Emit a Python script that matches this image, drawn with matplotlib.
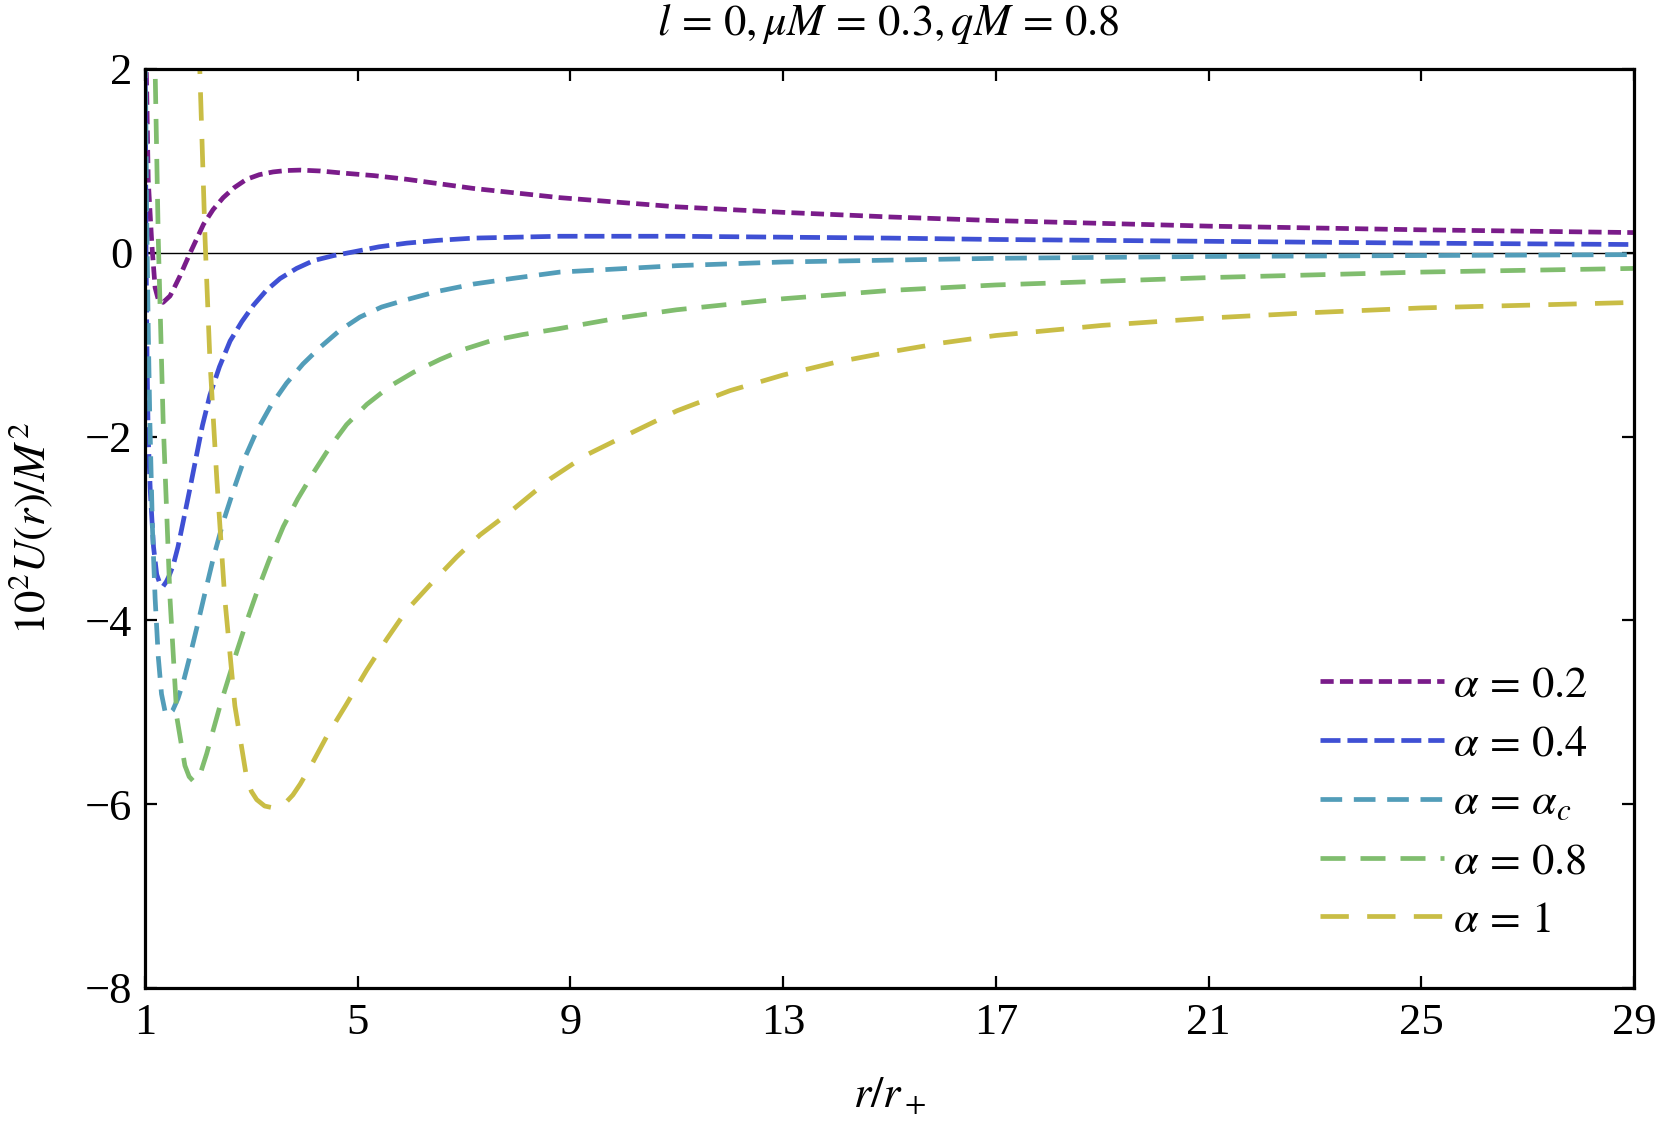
import numpy as np
import matplotlib
matplotlib.use('Agg')
import matplotlib.pyplot as plt

plt.rcParams['font.family'] = 'serif'
plt.rcParams['font.serif'] = ['Liberation Serif']
plt.rcParams['mathtext.fontset'] = 'stix'
plt.rcParams['lines.scale_dashes'] = False

# ---- data (r/r+ , 10^2 U/M^2) ----
x_a02 = [1.0, 1.03, 1.06, 1.13, 1.19, 1.25, 1.34, 1.47, 1.55, 1.66, 1.75, 1.85, 2.10,
         2.28, 2.47, 2.68, 2.91, 3.15, 3.41, 3.65, 3.92, 4.30, 4.67, 5.30, 5.92, 7.18,
         8.8, 11, 13, 15, 17, 19, 21, 23, 25, 27, 29]
y_a02 = [2.6, 1.84, 0.80, 0.08, -0.38, -0.51, -0.54, -0.47, -0.38, -0.25, -0.13, 0.0,
         0.31, 0.47, 0.60, 0.71, 0.80, 0.85, 0.88, 0.895, 0.90, 0.89, 0.87, 0.84, 0.80,
         0.70, 0.60, 0.50, 0.44, 0.39, 0.35, 0.32, 0.29, 0.27, 0.25, 0.235, 0.22]

x_a04 = [1.0, 1.02, 1.04, 1.06, 1.10, 1.16, 1.22, 1.28, 1.34, 1.40, 1.45, 1.53, 1.62,
         1.72, 1.84, 1.97, 2.08, 2.22, 2.40, 2.60, 2.82, 3.04, 3.28, 3.54, 3.85, 4.17,
         4.55, 4.92, 5.40, 5.92, 6.50, 7.18, 8.8, 11, 13, 15, 17, 21, 25, 29]
y_a04 = [2.5, 0.0, -1.2, -2.0, -2.6, -3.2, -3.5, -3.6, -3.63, -3.58, -3.52, -3.40, -3.2,
         -2.92, -2.58, -2.20, -1.88, -1.55, -1.24, -0.96, -0.75, -0.57, -0.41, -0.28,
         -0.17, -0.085, -0.03, 0.01, 0.065, 0.105, 0.135, 0.16, 0.18, 0.18, 0.17, 0.16,
         0.145, 0.125, 0.105, 0.09]

x_ac = [1.0, 1.03, 1.06, 1.09, 1.14, 1.19, 1.25, 1.31, 1.38, 1.44, 1.52, 1.62, 1.72,
        1.84, 1.97, 2.12, 2.29, 2.47, 2.66, 2.87, 3.10, 3.37, 3.66, 3.97, 4.29, 4.65,
        5.04, 5.45, 5.92, 6.50, 7.18, 7.90, 8.8, 11, 13, 17, 21, 25, 29]
y_ac = [2.5, 0.5, -0.8, -1.8, -3.0, -3.76, -4.4, -4.8, -5.0, -5.03, -4.98, -4.85, -4.67,
        -4.40, -4.09, -3.72, -3.31, -2.93, -2.59, -2.24, -1.94, -1.66, -1.42, -1.21,
        -1.03, -0.85, -0.70, -0.59, -0.51, -0.42, -0.34, -0.28, -0.21, -0.14, -0.10,
        -0.06, -0.04, -0.03, -0.02]

x_a08 = [1.12, 1.19, 1.25, 1.34, 1.47, 1.60, 1.75, 1.83, 1.91, 1.98, 2.05, 2.16, 2.28,
         2.41, 2.56, 2.72, 2.90, 3.10, 3.33, 3.60, 3.87, 4.17, 4.47, 4.79, 5.17, 5.61,
         6.05, 6.55, 7.0, 7.49, 8.1, 8.74, 9.9, 11, 13, 15, 17, 21, 25, 29]
y_a08 = [3.0, 2.0, 0.14, -1.81, -3.76, -5.06, -5.58, -5.70, -5.75, -5.73, -5.65, -5.45,
         -5.20, -4.93, -4.65, -4.35, -4.03, -3.70, -3.35, -2.98, -2.68, -2.39, -2.12,
         -1.87, -1.65, -1.45, -1.30, -1.16, -1.05, -0.96, -0.89, -0.83, -0.71, -0.62,
         -0.50, -0.41, -0.35, -0.27, -0.21, -0.17]

x_a1 = [1.98, 2.03, 2.13, 2.22, 2.35, 2.50, 2.69, 2.91, 3.0, 3.10, 3.25, 3.41, 3.55,
        3.65, 3.78, 3.92, 4.15, 4.42, 4.78, 5.17, 5.55, 5.92, 6.38, 6.86, 7.30, 7.80,
        8.62, 9.3, 10, 11, 12, 13, 14, 15, 16, 17, 19, 21, 23, 25, 27, 29]
y_a1 = [3.0, 2.0, 0.14, -1.16, -2.46, -3.76, -4.93, -5.71, -5.86, -5.95, -6.02, -6.04,
        -6.02, -5.98, -5.90, -5.78, -5.55, -5.26, -4.92, -4.54, -4.20, -3.89, -3.60,
        -3.31, -3.07, -2.85, -2.46, -2.20, -2.0, -1.72, -1.50, -1.33, -1.19, -1.08,
        -0.98, -0.90, -0.79, -0.71, -0.65, -0.60, -0.57, -0.54]

labels = [r'$\alpha\,=\,0.2$', r'$\alpha\,=\,0.4$', r'$\alpha\,=\,\alpha_c$',
          r'$\alpha\,=\,0.8$', r'$\alpha\,=\,1$']
x_ticks = [1, 5, 9, 13, 17, 21, 25, 29]
y_ticks = [-8, -6, -4, -2, 0, 2]

colors = ['#7A1C8A', '#3F50D4', '#529DB9', '#80BD6E', '#C9BD45']
dashes = [(9.5, 4.5), (14.4, 5.0), (15.6, 8.4), (18.0, 10.8), (20.4, 13.2)]

fig = plt.figure(figsize=(16.61, 11.29), dpi=100)
ax = fig.add_axes([0.0873, 0.1249, 0.89645, 0.81399])

ax.axhline(0, color='black', lw=1.0, zorder=1)

series = [(x_a02, y_a02), (x_a04, y_a04), (x_ac, y_ac), (x_a08, y_a08), (x_a1, y_a1)]
for (xs, ys), c, d, lab in zip(series, colors, dashes, labels):
    ax.plot(xs, ys, color=c, lw=3.4, dashes=d, label=lab, zorder=2,
            solid_joinstyle='round')

ax.set_xlim(1, 29)
ax.set_ylim(-8, 2)
ax.set_xticks(x_ticks)
ax.set_yticks(y_ticks)
ax.tick_params(direction='in', length=8.5, width=1.6, top=True, right=True,
               labelsize=32)
ax.tick_params(axis='x', pad=11)
ax.tick_params(axis='y', pad=9)
for s in ax.spines.values():
    s.set_linewidth(2.3)

fig.text(0.5346, 0.9786, r'$l\,=\,0, \mu M\,=\,0.3, qM\,=\,0.8$', ha='center',
         va='center', fontsize=32)
fig.text(0.5355, 0.0292, r'$r/r_+$', ha='center', va='center', fontsize=32)
fig.text(0.0185, 0.532, r'$10^2U(r)/M^2$', ha='center', va='center', fontsize=32,
         rotation=90)

ax.legend(loc='center left', bbox_to_anchor=(0.7947, 0.2885),
          bbox_transform=fig.transFigure, frameon=False, fontsize=32,
          handlelength=2.8, handletextpad=0.2, labelspacing=0.42,
          borderpad=0, borderaxespad=0)

fig.savefig('out.png', dpi=100, facecolor='white')
